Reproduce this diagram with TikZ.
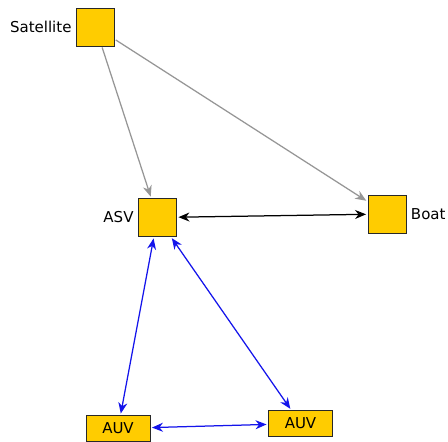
\documentclass[tikz,border=0pt]{standalone}
\usepackage{fontspec}
\setmainfont{DejaVu Sans}
\usetikzlibrary{arrows.meta}
\definecolor{boxgold}{RGB}{255,204,0}
\definecolor{boxedge}{RGB}{40,40,40}
\definecolor{linkgray}{RGB}{150,150,150}
\definecolor{linkblue}{RGB}{20,20,235}

\tikzset{
    vehicle/.style={draw=boxedge, fill=boxgold, line width=0.9pt, inner sep=0pt,
        minimum width=38pt, minimum height=38pt},
    auvbox/.style={vehicle, minimum width=64pt, minimum height=26pt},
    linktip/.tip={Stealth[length=11pt, width=9pt, inset=3.5pt]},
    link/.style={line width=1.25pt, shorten >=1.5pt, shorten <=1.5pt, linktip-linktip},
    uplink/.style={line width=1.25pt, linkgray, shorten >=1.5pt, shorten <=1pt, -linktip}
}

\begin{document}
\begin{tikzpicture}[x=1pt, y=-1pt, font=\fontsize{15}{18}\selectfont]
    \useasboundingbox (0,0) rectangle (448,442);

    % Nodes
    \node[vehicle, label={[label distance=1pt]left:Satellite}] (sat) at (95.5,27) {};
    \node[vehicle, label={[label distance=1pt]left:ASV}] (asv) at (157.5,217.5) {};
    \node[vehicle, label={[label distance=1pt]right:Boat}] (boat) at (387,214) {};
    \node[auvbox] (auvA) at (118,428.5) {AUV};
    \node[auvbox] (auvB) at (300.5,423.5) {AUV};

    % Satellite links
    \draw[uplink] (sat) -- (asv);
    \draw[uplink] (sat) -- (boat);

    % Surface link
    \draw[link, black] (asv) -- (boat);

    % Underwater links
    \draw[link, linkblue] (asv) -- (auvA);
    \draw[link, linkblue] (asv) -- (auvB);
    \draw[link, linkblue] (auvA) -- (auvB);
\end{tikzpicture}
\end{document}
